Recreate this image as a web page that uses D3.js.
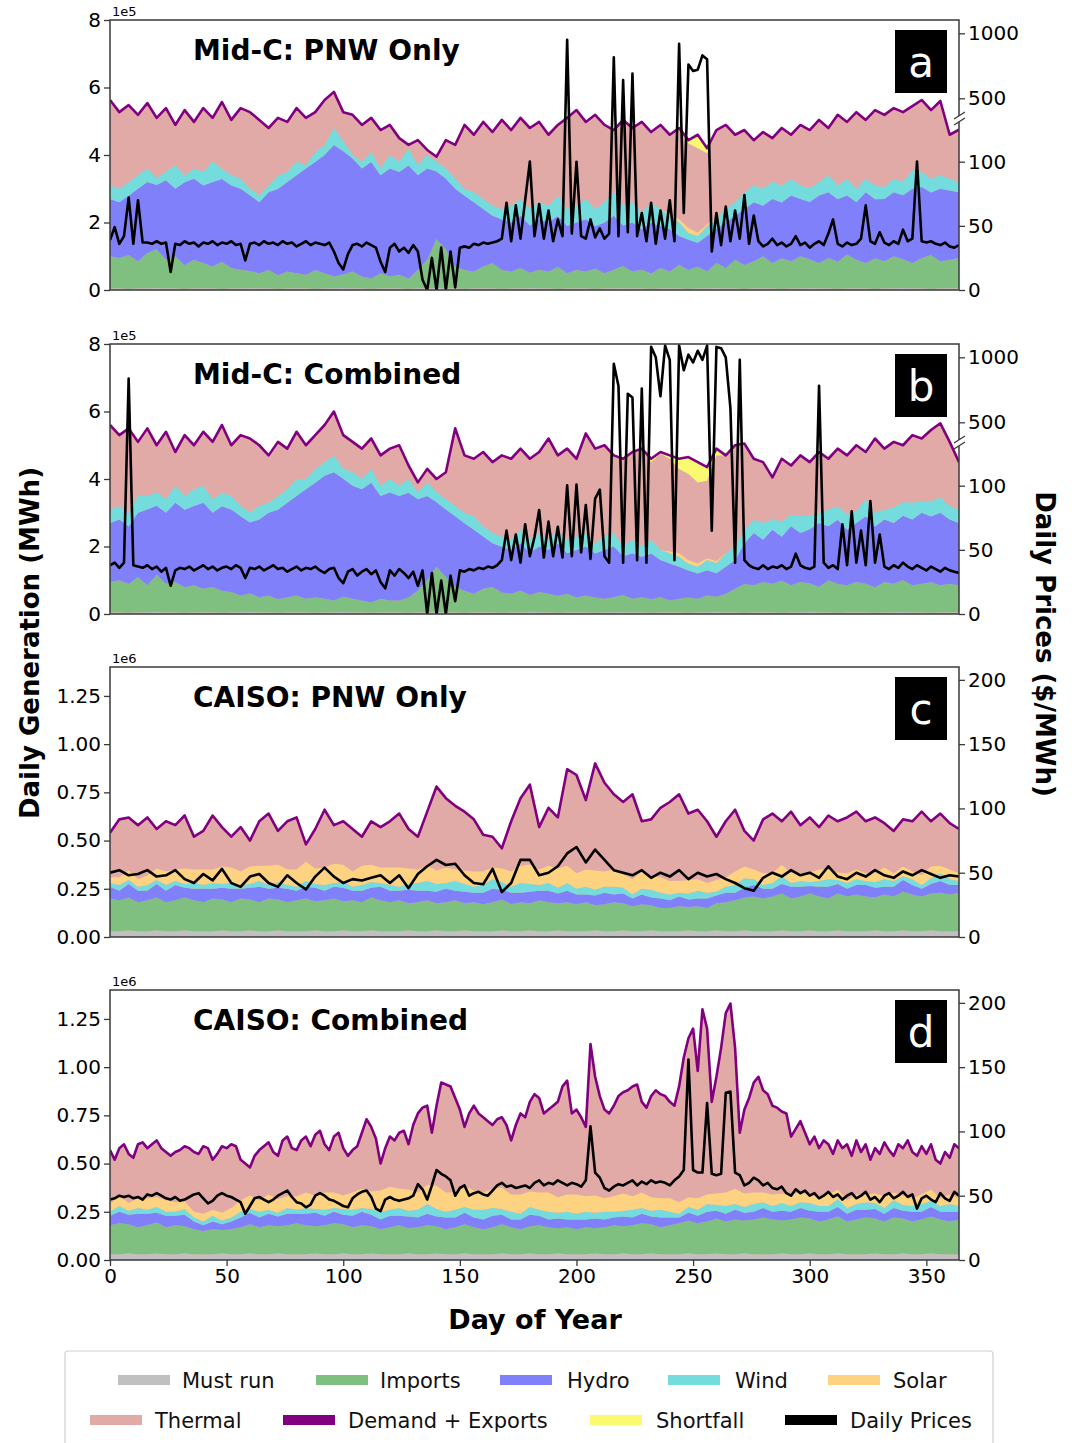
<!DOCTYPE html>
<html><head><meta charset="utf-8">
<script src="https://cdn.jsdelivr.net/npm/d3@7"></script>
<style>body{margin:0;background:#fff}svg{display:block}text{font-family:"DejaVu Sans",sans-serif}</style>
</head><body><svg id="c" width="1076" height="1443"></svg>
<script>
// ---------------- DATA ----------------
// Stack series are sampled every 4 days (day 0..364); lines as noted.
const days4 = d3.range(0, 365, 4);
const days2 = d3.range(0, 365, 2);

// Mid-C generation in units of 1e5 MWh
const mustrunMidC = [0.05,0.05,0.04,0.05,0.05,0.06,0.05,0.05,0.04,0.05,0.05,0.05,0.04,0.05,0.05,0.06,0.05,0.05,0.04,0.05,0.05,0.05,0.04,0.05,0.05,0.06,0.05,0.05,0.04,0.05,0.05,0.05,0.04,0.05,0.05,0.06,0.05,0.05,0.04,0.05,0.05,0.05,0.04,0.05,0.05,0.06,0.05,0.05,0.04,0.05,0.05,0.05,0.04,0.05,0.05,0.06,0.05,0.05,0.04,0.05,0.05,0.05,0.04,0.05,0.05,0.06,0.05,0.05,0.04,0.05,0.05,0.05,0.04,0.05,0.05,0.06,0.05,0.05,0.04,0.05,0.05,0.05,0.04,0.05,0.05,0.06,0.05,0.05,0.04,0.05,0.05,0.05];

const importsA = [0.95,0.9,1.0,0.8,1.05,1.15,0.85,0.95,0.7,0.85,0.75,0.65,0.8,0.6,0.55,0.5,0.45,0.55,0.4,0.5,0.45,0.4,0.55,0.45,0.35,0.4,0.5,0.35,0.3,0.45,0.35,0.4,0.3,0.55,0.85,1.45,1.15,0.65,0.55,0.5,0.65,0.75,0.55,0.5,0.6,0.45,0.55,0.5,0.65,0.45,0.55,0.5,0.6,0.45,0.55,0.65,0.5,0.55,0.45,0.6,0.5,0.7,0.55,0.65,0.5,0.75,0.6,0.85,0.7,0.8,0.95,0.75,0.9,0.8,0.95,0.85,0.75,0.9,0.8,1.0,0.85,0.75,0.9,0.8,0.95,0.85,0.75,0.9,1.0,0.8,0.85,0.9];
const hydroA = [1.7,1.65,1.75,2.15,2.1,1.9,2.35,2.0,2.45,2.4,2.3,2.5,2.45,2.45,2.4,2.25,2.1,2.3,2.55,2.65,2.9,3.15,3.2,3.5,3.9,3.65,3.35,3.2,3.45,2.9,3.2,3.05,3.35,2.8,2.7,2.0,2.1,2.3,2.2,2.05,1.7,1.4,1.5,1.45,1.55,1.4,1.5,1.45,1.5,1.4,1.4,1.55,1.25,1.5,1.6,1.2,1.45,1.2,1.5,1.25,1.25,0.85,0.9,0.7,1.05,1.0,1.35,1.3,1.65,1.75,1.5,1.9,1.65,1.95,1.7,1.7,2.0,1.95,1.85,1.75,1.7,2.1,1.75,1.85,1.9,1.9,2.2,2.1,1.85,2.15,2.05,1.95];
const windA = [0.4,0.4,0.4,0.4,0.4,0.2,0.25,0.7,0.2,0.3,0.4,0.6,0.3,0.3,0.3,0.2,0.2,0.2,0.4,0.3,0.4,0.1,0.3,0.3,0.5,0.3,0.1,0.2,0.3,0.2,0.4,0.3,0.5,0.3,0.4,0.3,0.3,0.3,0.2,0.3,0.3,0.3,0.3,0.5,0.5,0.5,0.5,0.5,0.6,0.5,0.5,0.6,0.5,0.6,0.7,0.6,0.6,0.5,0.6,0.5,0.4,0.4,0.2,0.2,0.3,0.3,0.4,0.4,0.5,0.5,0.5,0.5,0.5,0.5,0.4,0.4,0.4,0.5,0.4,0.5,0.4,0.4,0.4,0.35,0.4,0.4,0.55,0.45,0.4,0.4,0.35,0.3];
const solarA = [0,0,0,0,0,0,0,0,0,0,0,0,0,0,0,0,0,0,0,0,0,0,0,0,0,0,0,0,0,0,0,0,0,0,0,0,0,0,0,0,0,0,0,0,0,0,0,0,0,0,0,0,0,0,0,0,0,0,0,0,0.05,0.1,0.15,0.1,0.05,0,0,0,0,0,0,0,0,0,0,0,0,0,0,0,0,0,0,0,0,0,0,0,0,0,0,0];
const shortfallA = [0,0,0,0,0,0,0,0,0,0,0,0,0,0,0,0,0,0,0,0,0,0,0,0,0,0,0,0,0,0,0,0,0,0,0,0,0,0,0,0,0,0,0,0,0,0,0,0,0,0,0,0,0,0,0,0,0,0,0,0,0,0,0.1,0.4,0.15,0,0,0,0,0,0,0,0,0,0,0,0,0,0,0,0,0,0,0,0,0,0,0,0,0,0,0];
const demandA = [5.63,5.27,5.48,5.19,5.54,5.1,5.39,4.89,5.33,4.98,5.39,5.1,5.57,5.04,5.39,5.27,5.04,4.8,5.1,4.98,5.39,5.1,5.27,5.63,5.87,5.27,5.19,4.89,5.1,4.74,4.89,4.5,4.3,4.44,4.15,3.95,4.44,4.3,4.89,4.6,4.98,4.68,5.04,4.74,5.1,4.8,4.98,4.6,4.89,5.1,5.33,4.98,5.19,4.89,4.74,5.04,4.8,4.98,4.68,4.89,4.6,4.8,4.44,4.6,4.2,4.74,4.89,4.6,4.74,4.44,4.68,4.5,4.8,4.6,4.89,4.74,5.04,4.8,5.19,4.98,5.27,5.04,5.33,5.19,5.39,5.27,5.45,5.63,5.33,5.6,4.6,4.75];
// daily price ($/MWh), every 2 days
const priceA = [39,49,36,42,72,36,70,37,37,36,38,36,37,14,36,35,38,36,37,34,37,36,38,35,37,36,38,35,36,23,36,37,35,38,36,37,35,38,36,37,34,36,38,35,37,36,35,37,30,21,16,28,35,36,34,37,35,33,22,14,33,36,30,33,29,35,30,8,0,25,0,33,0,30,2,33,34,33,36,35,37,36,37,38,40,68,38,66,40,70,101,42,67,40,62,38,55,42,950,44,100,42,40,55,41,48,40,44,815,42,640,45,690,42,60,38,68,36,62,40,70,38,920,60,760,710,720,830,800,30,60,35,65,38,62,40,74,36,58,38,34,36,40,35,37,34,36,42,35,37,33,36,38,35,44,55,36,34,37,35,36,40,66,38,36,45,37,35,38,36,47,38,40,101,38,37,38,36,35,37,34,33,35];

const importsB = [0.9,0.95,0.85,1.05,0.8,1.1,0.85,0.9,0.75,0.8,0.7,0.75,0.65,0.6,0.5,0.55,0.45,0.5,0.4,0.45,0.5,0.4,0.45,0.4,0.35,0.45,0.4,0.35,0.3,0.4,0.35,0.35,0.45,0.65,0.95,1.35,1.05,0.75,0.65,0.55,0.7,0.75,0.6,0.55,0.65,0.5,0.6,0.55,0.5,0.55,0.45,0.5,0.45,0.4,0.45,0.5,0.4,0.45,0.4,0.45,0.35,0.4,0.45,0.4,0.5,0.45,0.55,0.7,0.85,0.8,0.9,0.85,0.95,0.8,0.9,0.85,0.75,0.95,0.85,0.8,0.9,0.85,0.75,0.9,0.85,0.95,0.8,0.85,0.9,0.8,0.85,0.8];
const hydroB = [1.75,1.8,1.7,1.9,2.25,2.05,2.1,2.35,2.3,2.35,2.55,2.2,2.5,2.45,2.35,2.1,2.3,2.45,2.65,2.8,2.95,3.25,3.4,3.65,3.8,3.5,3.35,3.3,3.55,3.05,3.2,3.1,3.1,2.7,2.5,1.9,2.0,2.1,2.0,1.9,1.55,1.3,1.35,1.3,1.4,1.25,1.35,1.3,1.55,1.2,1.4,1.45,1.3,1.45,1.5,1.15,1.35,1.2,1.35,1.1,1.1,0.95,0.8,0.75,0.75,0.7,0.8,0.85,1.2,1.55,1.25,1.6,1.3,1.75,1.45,1.6,1.9,1.6,1.9,1.65,1.75,2.0,1.8,1.85,1.8,1.9,1.95,2.1,1.95,2.15,1.9,1.85];
const windB = [0.4,0.4,0.4,0.5,0.4,0.4,0.4,0.5,0.4,0.5,0.5,0.4,0.4,0.4,0.3,0.3,0.4,0.3,0.4,0.4,0.5,0.3,0.4,0.4,0.5,0.3,0.4,0.3,0.4,0.3,0.4,0.3,0.4,0.2,0.4,0.3,0.3,0.3,0.3,0.4,0.3,0.3,0.3,0.3,0.4,0.4,0.4,0.3,0.4,0.4,0.4,0.4,0.3,0.4,0.4,0.3,0.4,0.3,0.4,0.3,0.3,0.3,0.2,0.2,0.3,0.3,0.4,0.4,0.4,0.4,0.5,0.3,0.45,0.35,0.5,0.4,0.3,0.5,0.4,0.45,0.35,0.5,0.4,0.3,0.45,0.4,0.5,0.35,0.45,0.45,0.4,0.4];
const solarB = [0,0,0,0,0,0,0,0,0,0,0,0,0,0,0,0,0,0,0,0,0,0,0,0,0,0,0,0,0,0,0,0,0,0,0,0,0,0,0,0,0,0,0,0,0,0,0,0,0,0,0,0,0,0,0,0,0,0,0,0,0.05,0.1,0.1,0.1,0.05,0.05,0,0,0,0,0,0,0,0,0,0,0,0,0,0,0,0,0,0,0,0,0,0,0,0,0,0];
const shortfallB = [0,0,0,0,0,0,0,0,0,0,0,0,0,0,0,0,0,0,0,0,0,0,0,0,0,0,0,0,0,0,0,0,0,0,0,0,0,0,0,0,0,0,0,0,0,0,0,0,0,0,0,0,0,0,0,0,0,0,0.1,0.05,0.1,0.3,0.5,0.6,0.4,0.2,0,0,0,0,0,0,0,0,0,0,0,0,0,0,0,0,0,0,0,0,0,0,0,0,0,0];
const demandB = [5.6,5.3,5.5,5.1,5.5,5.0,5.4,4.8,5.3,5.0,5.4,5.1,5.6,5.0,5.3,5.2,5.0,4.7,5.1,4.9,5.4,5.0,5.3,5.6,6.0,5.3,5.1,4.9,5.2,4.7,4.9,5.0,4.4,3.9,4.3,4.0,4.2,5.5,4.7,4.6,4.8,4.5,4.7,4.6,4.9,4.6,4.8,5.2,4.7,4.9,4.6,5.35,4.9,5.0,4.7,4.6,4.8,4.9,4.6,4.8,4.7,4.6,4.65,4.5,4.35,4.9,4.7,5.0,5.05,4.6,4.5,4.05,4.6,4.4,4.7,4.5,4.8,4.6,4.9,4.7,5.0,4.8,5.2,4.9,5.1,5.0,5.3,5.2,5.45,5.65,5.1,4.5];
const priceB = [38,40,36,40,836,38,37,36,38,35,37,33,36,22,34,36,35,37,34,36,38,35,37,34,36,37,35,38,36,28,36,35,37,34,36,38,35,36,33,35,37,34,36,35,37,34,32,35,36,28,24,33,35,30,33,35,31,34,25,20,34,30,35,32,28,33,22,34,0,32,0,26,0,30,10,34,33,35,34,36,35,37,36,38,42,65,42,62,40,70,45,60,81,44,72,45,68,44,102,45,107,48,85,43,90,97,45,40,950,780,40,720,690,42,760,40,1080,1000,700,1090,980,42,1090,900,1020,960,1050,980,1090,65,1080,1070,1000,610,40,980,42,38,36,35,38,35,37,36,38,35,37,47,38,36,35,37,780,40,36,38,35,70,38,80,40,65,38,88,40,62,37,35,38,36,40,37,35,38,36,34,37,35,33,36,34,33,32];

// CAISO generation in units of 1e6 MWh
const mustrunCAISO = [0.03,0.03,0.035,0.03,0.03,0.035,0.03,0.03,0.035,0.03,0.03,0.03,0.035,0.03,0.03,0.035,0.03,0.03,0.035,0.03,0.03,0.03,0.035,0.03,0.03,0.035,0.03,0.03,0.035,0.03,0.03,0.03,0.035,0.03,0.03,0.035,0.03,0.03,0.035,0.03,0.03,0.03,0.035,0.03,0.03,0.035,0.03,0.03,0.035,0.03,0.03,0.03,0.035,0.03,0.03,0.035,0.03,0.03,0.035,0.03,0.03,0.03,0.035,0.03,0.03,0.035,0.03,0.03,0.035,0.03,0.03,0.03,0.035,0.03,0.03,0.035,0.03,0.03,0.035,0.03,0.03,0.03,0.035,0.03,0.03,0.035,0.03,0.03,0.035,0.03,0.03,0.03];

const importsC = [0.17,0.16,0.17,0.15,0.16,0.17,0.15,0.16,0.17,0.16,0.15,0.17,0.16,0.15,0.17,0.16,0.15,0.17,0.16,0.15,0.16,0.17,0.15,0.16,0.17,0.15,0.16,0.15,0.17,0.16,0.15,0.16,0.14,0.15,0.16,0.14,0.15,0.16,0.14,0.15,0.14,0.15,0.16,0.14,0.15,0.14,0.16,0.15,0.14,0.15,0.14,0.15,0.13,0.14,0.15,0.14,0.13,0.14,0.13,0.12,0.12,0.13,0.12,0.13,0.12,0.14,0.15,0.16,0.17,0.18,0.17,0.18,0.19,0.17,0.18,0.19,0.18,0.17,0.19,0.18,0.19,0.18,0.17,0.19,0.18,0.2,0.19,0.18,0.19,0.2,0.19,0.2];
const hydroC = [0.06,0.05,0.07,0.06,0.05,0.07,0.06,0.08,0.05,0.06,0.07,0.05,0.06,0.07,0.05,0.06,0.08,0.05,0.06,0.07,0.05,0.06,0.07,0.05,0.06,0.07,0.05,0.06,0.05,0.07,0.06,0.05,0.07,0.06,0.05,0.06,0.07,0.05,0.06,0.05,0.06,0.07,0.05,0.06,0.05,0.06,0.05,0.06,0.05,0.06,0.05,0.04,0.05,0.06,0.04,0.05,0.04,0.05,0.04,0.05,0.04,0.05,0.04,0.04,0.05,0.04,0.05,0.04,0.05,0.06,0.05,0.04,0.05,0.06,0.05,0.04,0.05,0.06,0.05,0.04,0.05,0.06,0.05,0.04,0.05,0.06,0.05,0.04,0.05,0.06,0.05,0.04];
const windC = [0.02,0.03,0.02,0.02,0.03,0.02,0.03,0.02,0.02,0.03,0.02,0.03,0.02,0.03,0.02,0.02,0.03,0.02,0.03,0.02,0.02,0.03,0.02,0.03,0.02,0.03,0.02,0.03,0.03,0.02,0.03,0.02,0.03,0.04,0.05,0.04,0.03,0.05,0.04,0.03,0.04,0.05,0.04,0.03,0.05,0.04,0.03,0.04,0.03,0.04,0.03,0.04,0.03,0.03,0.04,0.03,0.02,0.03,0.04,0.03,0.03,0.02,0.03,0.04,0.03,0.02,0.03,0.04,0.05,0.03,0.02,0.03,0.04,0.02,0.03,0.02,0.03,0.04,0.02,0.03,0.03,0.02,0.03,0.04,0.03,0.02,0.03,0.02,0.03,0.04,0.03,0.02];
const solarC = [0.03,0.04,0.05,0.04,0.05,0.06,0.07,0.06,0.08,0.07,0.08,0.07,0.09,0.08,0.07,0.09,0.08,0.1,0.09,0.08,0.09,0.1,0.08,0.09,0.1,0.09,0.08,0.1,0.09,0.08,0.09,0.1,0.08,0.07,0.08,0.07,0.08,0.06,0.07,0.08,0.07,0.06,0.07,0.08,0.09,0.1,0.08,0.09,0.1,0.09,0.08,0.09,0.1,0.08,0.09,0.07,0.08,0.09,0.07,0.08,0.07,0.06,0.07,0.06,0.05,0.06,0.05,0.07,0.06,0.05,0.06,0.05,0.06,0.05,0.04,0.05,0.06,0.05,0.04,0.05,0.05,0.04,0.05,0.06,0.04,0.05,0.04,0.05,0.06,0.04,0.05,0.04];
const demandC = [0.54,0.61,0.62,0.58,0.62,0.56,0.6,0.58,0.63,0.52,0.55,0.63,0.57,0.52,0.57,0.5,0.6,0.64,0.55,0.6,0.62,0.48,0.56,0.66,0.58,0.6,0.56,0.52,0.6,0.57,0.6,0.64,0.56,0.52,0.65,0.78,0.72,0.68,0.65,0.61,0.53,0.52,0.46,0.6,0.72,0.79,0.57,0.67,0.62,0.87,0.84,0.71,0.9,0.8,0.74,0.7,0.74,0.6,0.61,0.67,0.7,0.74,0.64,0.66,0.6,0.52,0.6,0.66,0.55,0.5,0.61,0.64,0.6,0.65,0.58,0.62,0.57,0.63,0.6,0.62,0.65,0.6,0.62,0.59,0.55,0.61,0.6,0.65,0.6,0.64,0.59,0.56];
const priceC = [50,52,48,49,52,47,48,52,45,42,49,44,53,42,39,47,49,42,39,48,42,37,47,54,47,42,45,44,46,48,42,48,38,49,55,60,56,57,48,42,41,53,35,42,60,60,48,50,55,65,70,58,68,60,52,50,48,52,46,50,47,52,45,50,47,49,45,42,38,36,46,50,47,52,48,50,46,55,47,45,50,47,52,48,46,51,48,52,49,46,48,47];

const importsD = [0.15,0.16,0.15,0.14,0.15,0.16,0.14,0.15,0.14,0.13,0.12,0.13,0.12,0.13,0.14,0.15,0.14,0.15,0.14,0.15,0.16,0.15,0.14,0.15,0.16,0.15,0.14,0.15,0.14,0.13,0.14,0.15,0.13,0.14,0.15,0.14,0.13,0.14,0.15,0.14,0.13,0.14,0.15,0.14,0.13,0.14,0.15,0.14,0.13,0.14,0.13,0.14,0.13,0.14,0.15,0.14,0.15,0.16,0.15,0.14,0.15,0.16,0.17,0.16,0.17,0.18,0.17,0.18,0.17,0.18,0.19,0.18,0.17,0.18,0.19,0.18,0.17,0.18,0.19,0.17,0.18,0.19,0.18,0.17,0.19,0.18,0.17,0.18,0.19,0.18,0.17,0.18];
const hydroD = [0.05,0.06,0.05,0.07,0.06,0.05,0.06,0.05,0.06,0.04,0.03,0.04,0.03,0.04,0.05,0.06,0.05,0.06,0.05,0.06,0.05,0.06,0.07,0.05,0.06,0.05,0.06,0.07,0.06,0.05,0.06,0.05,0.06,0.05,0.06,0.05,0.06,0.05,0.06,0.05,0.05,0.06,0.05,0.04,0.05,0.06,0.05,0.04,0.05,0.04,0.05,0.04,0.05,0.04,0.04,0.05,0.04,0.05,0.04,0.05,0.04,0.03,0.04,0.04,0.05,0.04,0.04,0.05,0.04,0.04,0.05,0.04,0.05,0.04,0.05,0.04,0.05,0.04,0.05,0.04,0.05,0.04,0.05,0.04,0.05,0.04,0.05,0.04,0.05,0.04,0.05,0.04];
const windD = [0.02,0.03,0.02,0.03,0.02,0.03,0.02,0.02,0.03,0.02,0.02,0.03,0.02,0.02,0.03,0.02,0.03,0.02,0.02,0.03,0.02,0.03,0.02,0.03,0.02,0.03,0.03,0.02,0.03,0.04,0.03,0.04,0.03,0.04,0.05,0.04,0.03,0.04,0.03,0.04,0.05,0.04,0.03,0.04,0.03,0.04,0.03,0.04,0.03,0.04,0.03,0.04,0.03,0.04,0.03,0.03,0.04,0.03,0.03,0.04,0.03,0.02,0.03,0.03,0.04,0.03,0.04,0.03,0.03,0.04,0.03,0.03,0.04,0.03,0.03,0.04,0.03,0.03,0.04,0.03,0.03,0.04,0.03,0.03,0.04,0.03,0.03,0.04,0.03,0.03,0.04,0.03];
const solarD = [0.04,0.05,0.04,0.05,0.06,0.05,0.06,0.05,0.04,0.03,0.04,0.03,0.04,0.05,0.06,0.07,0.06,0.08,0.07,0.06,0.07,0.08,0.07,0.09,0.08,0.07,0.09,0.1,0.09,0.11,0.12,0.1,0.11,0.09,0.1,0.12,0.1,0.09,0.11,0.1,0.09,0.1,0.11,0.09,0.1,0.08,0.09,0.1,0.08,0.09,0.1,0.08,0.09,0.07,0.08,0.09,0.07,0.08,0.07,0.06,0.07,0.06,0.05,0.06,0.05,0.06,0.07,0.08,0.07,0.06,0.05,0.06,0.05,0.06,0.05,0.04,0.05,0.06,0.05,0.04,0.05,0.04,0.05,0.06,0.04,0.05,0.04,0.05,0.06,0.04,0.05,0.04];
// every 2 days
const demandD = [0.57,0.52,0.58,0.6,0.55,0.53,0.6,0.61,0.58,0.6,0.62,0.58,0.56,0.54,0.56,0.57,0.59,0.58,0.56,0.55,0.59,0.58,0.52,0.55,0.59,0.58,0.6,0.59,0.52,0.5,0.48,0.54,0.57,0.59,0.61,0.56,0.54,0.62,0.64,0.58,0.57,0.62,0.64,0.59,0.65,0.67,0.6,0.57,0.64,0.66,0.58,0.54,0.57,0.59,0.66,0.73,0.69,0.63,0.5,0.58,0.64,0.62,0.66,0.67,0.6,0.7,0.76,0.79,0.8,0.66,0.8,0.92,0.91,0.9,0.84,0.78,0.69,0.76,0.8,0.76,0.74,0.72,0.7,0.73,0.74,0.7,0.62,0.7,0.76,0.74,0.82,0.86,0.84,0.76,0.78,0.8,0.82,0.9,0.93,0.76,0.78,0.74,0.69,1.12,0.95,0.85,0.78,0.76,0.8,0.85,0.87,0.88,0.9,0.91,0.82,0.79,0.85,0.88,0.86,0.85,0.82,0.8,0.9,1.05,1.15,1.2,0.98,1.3,1.2,0.82,0.95,1.1,1.28,1.33,1.1,0.66,0.78,0.84,0.92,0.95,0.88,0.86,0.8,0.79,0.77,0.76,0.64,0.68,0.72,0.66,0.6,0.64,0.58,0.62,0.6,0.55,0.62,0.58,0.6,0.54,0.62,0.56,0.6,0.52,0.58,0.55,0.61,0.57,0.54,0.6,0.58,0.62,0.56,0.54,0.59,0.55,0.6,0.52,0.5,0.56,0.53,0.6,0.58];
const priceD = [47,48,50,49,50,48,49,47,51,50,52,50,48,47,49,46,47,49,51,52,48,44,46,50,52,50,49,47,45,36,42,48,49,47,45,47,50,52,54,49,45,44,41,43,50,52,50,47,46,44,42,41,48,51,53,54,49,40,38,47,49,47,46,47,48,50,59,55,47,58,70,67,65,62,50,56,58,50,52,53,51,50,54,58,60,57,58,56,57,58,56,60,62,58,60,59,62,60,58,60,59,57,62,104,68,64,56,54,57,59,58,60,62,58,61,59,62,60,61,60,58,62,65,70,156,70,68,68,122,67,66,67,130,131,68,66,58,60,64,62,58,60,56,55,57,52,50,55,52,54,50,52,48,50,53,49,51,47,50,52,48,50,53,47,49,45,50,52,48,50,53,49,51,40,48,50,47,45,52,48,46,53,50];

// axis tick labels
const midcGenTicks = [0, 2, 4, 6, 8];
const caisoGenTicks = [0, 0.25, 0.5, 0.75, 1.0, 1.25];
const midcPriceTicks = [0, 50, 100, 500, 1000];
const caisoPriceTicks = [0, 50, 100, 150, 200];
const dayTicks = [0, 50, 100, 150, 200, 250, 300, 350];

const seriesNames = {mustrun:'Must run', imports:'Imports', hydro:'Hydro', wind:'Wind', solar:'Solar',
  thermal:'Thermal', demand:'Demand + Exports', shortfall:'Shortfall', price:'Daily Prices'};

// ---------------- CHART ----------------
const colors = {mustrun:'#c0c0c0', imports:'#7fbf7f', hydro:'#8080fb', wind:'#74dcdc', solar:'#fdd280',
  thermal:'#e2aaa7', demand:'#800080', shortfall:'#fafa70', price:'#000000'};

const panels = [
  {key:'a', title:'Mid-C: PNW Only', top:20, genMax:8, genTicks:midcGenTicks, fmt:d3.format('d'), exp:'1e5', broken:true,
   priceTicks:midcPriceTicks, mustrun:mustrunMidC, imports:importsA, hydro:hydroA, wind:windA, solar:solarA, shortfall:shortfallA,
   demand:demandA, demandDays:days4, price:priceA, priceDays:days2},
  {key:'b', title:'Mid-C: Combined', top:344, genMax:8, genTicks:midcGenTicks, fmt:d3.format('d'), exp:'1e5', broken:true,
   priceTicks:midcPriceTicks, mustrun:mustrunMidC, imports:importsB, hydro:hydroB, wind:windB, solar:solarB, shortfall:shortfallB,
   demand:demandB, demandDays:days4, price:priceB, priceDays:days2},
  {key:'c', title:'CAISO: PNW Only', top:667, genMax:1.4, genTicks:caisoGenTicks, fmt:d3.format('.2f'), exp:'1e6', broken:false,
   priceTicks:caisoPriceTicks, mustrun:mustrunCAISO, imports:importsC, hydro:hydroC, wind:windC, solar:solarC, shortfall:null,
   demand:demandC, demandDays:days4, price:priceC, priceDays:days4},
  {key:'d', title:'CAISO: Combined', top:990, genMax:1.4, genTicks:caisoGenTicks, fmt:d3.format('.2f'), exp:'1e6', broken:false,
   priceTicks:caisoPriceTicks, mustrun:mustrunCAISO, imports:importsD, hydro:hydroD, wind:windD, solar:solarD, shortfall:null,
   demand:demandD, demandDays:days2, price:priceD, priceDays:days2, xAxis:true}
];

const svg = d3.select('#c');
const X0 = 110, X1 = 959, H = 270;
const x = d3.scaleLinear().domain([0, 364]).range([X0, X1]);
const keys = ['mustrun','imports','hydro','wind','solar'];
const FONT = '"DejaVu Sans", sans-serif';

panels.forEach(p => {
  const g = svg.append('g').attr('transform', `translate(0,${p.top})`);
  const yG = d3.scaleLinear().domain([0, p.genMax]).range([H, 0]);
  const yP = p.broken
    ? d3.scaleLinear().domain([0, 100, 500, 1100]).range([H, 141.7, 78.3, 0.3])
    : d3.scaleLinear().domain([0, 210]).range([H, 0]);

  const clipId = 'clip' + p.key;
  g.append('clipPath').attr('id', clipId).append('rect')
    .attr('x', X0).attr('y', 0).attr('width', X1 - X0).attr('height', H);
  const plot = g.append('g').attr('clip-path', `url(#${clipId})`);

  const dem = p.demandDays.map((d, i) => ({day: d, v: p.demand[i]}));
  // thermal fills up to demand; other layers painted on top
  plot.append('path').datum(dem).attr('fill', colors.thermal)
    .attr('d', d3.area().x(d => x(d.day)).y0(H).y1(d => yG(d.v)));

  const rows = days4.map((d, i) => {
    const r = {day: d};
    keys.forEach(k => r[k] = p[k][i]);
    return r;
  });
  const stacked = d3.stack().keys(keys)(rows);
  stacked.forEach(layer => {
    plot.append('path').datum(layer).attr('fill', colors[layer.key])
      .attr('d', d3.area().x(d => x(d.data.day)).y0(d => yG(d[0])).y1(d => yG(d[1])));
  });

  if (p.shortfall) {
    const sf = p.demandDays.map((d, i) => ({day: d, top: p.demand[i], s: p.shortfall[i]}));
    plot.append('path').datum(sf).attr('fill', colors.shortfall)
      .attr('d', d3.area().x(d => x(d.day)).y0(d => yG(d.top - d.s)).y1(d => yG(d.top)));
  }

  plot.append('path').datum(dem).attr('fill', 'none').attr('stroke', colors.demand)
    .attr('stroke-width', 2.6).attr('stroke-linejoin', 'round')
    .attr('d', d3.line().x(d => x(d.day)).y(d => yG(d.v)));

  const pr = p.priceDays.map((d, i) => ({day: d, v: p.price[i]}));
  plot.append('path').datum(pr).attr('fill', 'none').attr('stroke', colors.price)
    .attr('stroke-width', 2.6).attr('stroke-linejoin', 'round')
    .attr('d', d3.line().x(d => x(d.day)).y(d => yP(d.v)));

  // frame
  g.append('rect').attr('x', X0).attr('y', 0).attr('width', X1 - X0).attr('height', H)
    .attr('fill', 'none').attr('stroke', '#3a3a3a').attr('stroke-width', 1.5);

  // left axis
  const la = g.append('g').attr('transform', `translate(${X0},0)`)
    .call(d3.axisLeft(yG).tickValues(p.genTicks).tickFormat(p.fmt).tickSize(6).tickPadding(3));
  la.select('.domain').remove();
  la.attr('font-size', 20).attr('font-family', FONT);
  la.selectAll('line').attr('stroke', '#3a3a3a').attr('stroke-width', 1.3);
  la.selectAll('text').attr('fill', '#000');

  // right axis
  const ra = g.append('g').attr('transform', `translate(${X1},0)`)
    .call(d3.axisRight(yP).tickValues(p.priceTicks).tickFormat(d3.format('d')).tickSize(6).tickPadding(3));
  ra.select('.domain').remove();
  ra.attr('font-size', 20).attr('font-family', FONT);
  ra.selectAll('line').attr('stroke', '#3a3a3a').attr('stroke-width', 1.3);
  ra.selectAll('text').attr('fill', '#000');

  if (p.broken) {
    const c = 99;
    g.append('rect').attr('x', X1 - 3).attr('y', c - 3).attr('width', 6).attr('height', 6).attr('fill', '#fff');
    [-4, 2].forEach(a => {
      g.append('line').attr('x1', X1 - 5).attr('y1', c + a + 4).attr('x2', X1 + 6).attr('y2', c + a - 3)
        .attr('stroke', '#3a3a3a').attr('stroke-width', 1.4);
    });
  }

  // exponent label
  g.append('text').attr('x', X0 + 2).attr('y', -4).attr('font-size', 13).attr('font-family', FONT).text(p.exp);

  // title
  g.append('text').attr('x', 193).attr('y', 40).attr('font-size', 28).attr('font-weight', 'bold')
    .attr('font-family', FONT).text(p.title);

  // panel letter
  g.append('rect').attr('x', 895).attr('y', 10).attr('width', 52).attr('height', 63).attr('fill', '#000');
  g.append('text').attr('x', 921).attr('y', 57).attr('text-anchor', 'middle').attr('font-size', 42)
    .attr('fill', '#fff').attr('font-family', FONT).text(p.key);

  if (p.xAxis) {
    const xa = g.append('g').attr('transform', `translate(0,${H})`)
      .call(d3.axisBottom(x).tickValues(dayTicks).tickFormat(d3.format('d')).tickSize(6).tickPadding(3));
    xa.select('.domain').remove();
    xa.attr('font-size', 20).attr('font-family', FONT);
    xa.selectAll('line').attr('stroke', '#3a3a3a').attr('stroke-width', 1.3);
    xa.selectAll('text').attr('fill', '#000');
  }
});

// axis titles
svg.append('text').attr('transform', 'translate(39,643) rotate(-90)').attr('text-anchor', 'middle')
  .attr('font-size', 26).attr('font-weight', 'bold').attr('font-family', FONT).text('Daily Generation (MWh)');
svg.append('text').attr('transform', 'translate(1036,644) rotate(90)').attr('text-anchor', 'middle')
  .attr('font-size', 26).attr('font-weight', 'bold').attr('font-family', FONT).text('Daily Prices ($/MWh)');
svg.append('text').attr('x', 535).attr('y', 1329).attr('text-anchor', 'middle')
  .attr('font-size', 27).attr('font-weight', 'bold').attr('font-family', FONT).text('Day of Year');

// legend
const legendLayout = [
  {k:'mustrun', sx:118, tx:182, y:1380}, {k:'imports', sx:316, tx:380, y:1380}, {k:'hydro', sx:500, tx:567, y:1380},
  {k:'wind', sx:668, tx:735, y:1380}, {k:'solar', sx:828, tx:893, y:1380},
  {k:'thermal', sx:90, tx:155, y:1420}, {k:'demand', sx:283, tx:348, y:1420}, {k:'shortfall', sx:590, tx:656, y:1420},
  {k:'price', sx:785, tx:850, y:1420}
];
svg.append('rect').attr('x', 65).attr('y', 1351).attr('width', 928).attr('height', 100).attr('rx', 3)
  .attr('fill', '#fff').attr('stroke', '#d0d0d0').attr('stroke-width', 1.2);
legendLayout.forEach(l => {
  svg.append('rect').attr('x', l.sx).attr('y', l.y - 5).attr('width', 52).attr('height', 10).attr('fill', colors[l.k]);
  svg.append('text').attr('x', l.tx).attr('y', l.y + 8).attr('font-size', 21).attr('font-family', FONT)
    .attr('fill', '#111').text(seriesNames[l.k]);
});
</script></body></html>
